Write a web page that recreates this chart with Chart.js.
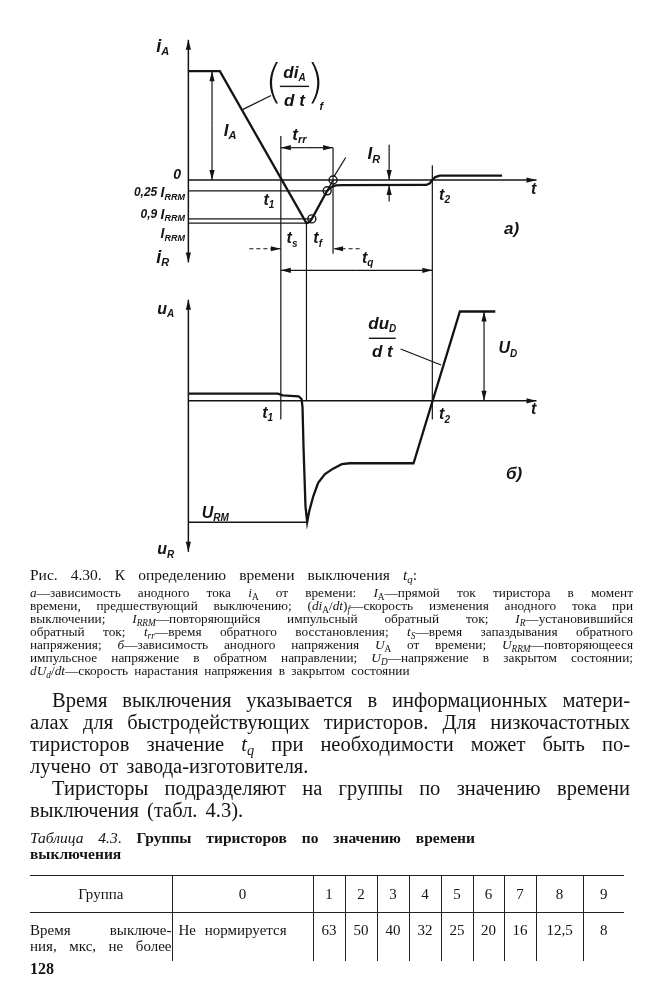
<!DOCTYPE html>
<html><head><meta charset="utf-8">
<script src="https://cdn.jsdelivr.net/npm/chart.js@4"></script>
<style>
html,body{margin:0;padding:0;background:#fff;}
body{width:663px;height:1000px;position:relative;overflow:hidden;font-family:"Liberation Serif","Times New Roman",serif;color:#141414;}
#figWrap{position:absolute;left:0;top:0;width:663px;height:570px;}
.ln{white-space:nowrap;text-align:justify;text-align-last:justify;}
.ln.last{text-align-last:left;}
sub{font-size:70%;vertical-align:-0.3em;line-height:0;}
#capHead{position:absolute;left:30px;top:567px;width:387px;font-size:15.5px;line-height:16px;}
#cap{position:absolute;left:30px;top:585.5px;width:603px;font-size:13.3px;line-height:13px;}
#body{position:absolute;left:30px;top:689px;width:600px;font-size:20.5px;line-height:22px;}
#body .ind{padding-left:22px;}
#tcap{position:absolute;left:30px;top:830px;width:445px;font-size:15.5px;line-height:16px;}
#tbl{position:absolute;left:30px;top:875px;border-collapse:collapse;font-size:15px;table-layout:fixed;}
#tbl td{padding:0;text-align:center;border-left:1.3px solid #222;vertical-align:top;}
#tbl td:first-child{border-left:none;}
#tbl tr.h td{height:36px;vertical-align:middle;border-top:1.3px solid #222;border-bottom:1.3px solid #222;}
#tbl tr.r td{height:48px;padding-top:9px;line-height:16px;box-sizing:border-box;}
#pg{position:absolute;left:30px;top:960px;font-size:16px;font-weight:bold;}
</style>
</head><body>
<div id="figWrap"><canvas id="fig" width="663" height="570"></canvas></div>

<div id="capHead" class="ln">Рис. 4.30. К определению времени выключения <i>t<sub>q</sub></i>:</div>
<div id="cap">
<div class="ln"><i>а</i>—зависимость анодного тока <i>i</i><sub>A</sub> от времени: <i>I</i><sub>A</sub>—прямой ток тиристора в момент</div>
<div class="ln">времени, предшествующий выключению; (<i>di</i><sub>A</sub>/<i>dt</i>)<sub><i>f</i></sub>—скорость изменения анодного тока при</div>
<div class="ln">выключении; <i>I<sub>RRM</sub></i>—повторяющийся импульсный обратный ток; <i>I<sub>R</sub></i>—установившийся</div>
<div class="ln">обратный ток; <i>t<sub>rr</sub></i>—время обратного восстановления; <i>t<sub>S</sub></i>—время запаздывания обратного</div>
<div class="ln">напряжения; <i>б</i>—зависимость анодного напряжения <i>U</i><sub>A</sub> от времени; <i>U<sub>RRM</sub></i>—повторяющееся</div>
<div class="ln">импульсное напряжение в обратном направлении; <i>U<sub>D</sub></i>—напряжение в закрытом состоянии;</div>
<div class="ln last" style="word-spacing:3px"><i>dU<sub>d</sub></i>/<i>dt</i>—скорость нарастания напряжения в закрытом состоянии</div>
</div>

<div id="body">
<div class="ln ind">Время выключения указывается в информационных матери-</div>
<div class="ln">алах для быстродействующих тиристоров. Для низкочастотных</div>
<div class="ln">тиристоров значение <i>t<sub>q</sub></i> при необходимости может быть по-</div>
<div class="ln last" style="word-spacing:3px">лучено от завода-изготовителя.</div>
<div class="ln ind">Тиристоры подразделяют на группы по значению времени</div>
<div class="ln last" style="word-spacing:3px">выключения (табл. 4.3).</div>
</div>

<div id="tcap">
<div class="ln"><i>Таблица 4.3</i>. <b>Группы тиристоров по значению времени</b></div>
<div><b>выключения</b></div>
</div>

<table id="tbl">
<colgroup>
<col style="width:142px"><col style="width:141px"><col style="width:32px"><col style="width:32px"><col style="width:32px"><col style="width:32px"><col style="width:32px"><col style="width:31px"><col style="width:32px"><col style="width:47px"><col style="width:41px">
</colgroup>
<tr class="h" id="hdr"></tr>
<tr class="r" id="row"></tr>
</table>
<div id="pg">128</div>

<script>
// ---- table data ----
const groupLabels = ['Группа', '0', '1', '2', '3', '4', '5', '6', '7', '8', '9'];
const turnOffTimes = ['Не нормируется', '63', '50', '40', '32', '25', '20', '16', '12,5', '8'];
const rowTitle = ['Время выключе-', 'ния, мкс, не более'];

// ---- diagram a): anode current vs time (time in arbitrary units, current in units of I_A) ----
const timeA    = [0, 1.29, 4.84, 4.93, 5.0, 5.06, 5.69, 5.80, 5.92, 6.05, 6.30, 9.75, 9.90, 10.0, 10.12, 10.30, 12.86];
const currentA = [1.0, 1.0, -0.396, -0.39, -0.375, -0.357, -0.099, -0.075, -0.058, -0.05, -0.046, -0.045, -0.03, 0, 0.027, 0.04, 0.04];
// marked points: 0.9 I_RRM, 0.25 I_RRM, extrapolated zero crossing
const markTimes    = [5.06, 5.69, 5.93];
const markCurrents = [-0.357, -0.099, 0];
// reference levels (fractions of I_RRM) and where their lines end
const IRRM = 0.396;
const refFractions = [0.25, 0.9, 1.0];
const refEnds      = [5.69, 5.03, 4.84];
// event times
const t1 = 3.79, tPeak = 4.84, tRR = 5.93, t2 = 10.0;

// ---- diagram б): anode voltage vs time (voltage in units of U_D) ----
const timeU    = [0, 3.67, 3.87, 4.19, 4.52, 4.64, 4.68, 4.72, 4.80, 4.87, 4.96, 5.12, 5.32, 5.60, 5.93, 6.29, 6.61, 9.23, 11.13, 12.58];
const voltageU = [0.08, 0.08, 0.06, 0.055, 0.05, 0.02, -0.077, -0.52, -1.18, -1.36, -1.23, -1.07, -0.92, -0.82, -0.76, -0.71, -0.70, -0.70, 1.0, 1.0];
const URM = -1.36;

const pts = (xs, ys) => xs.map((x, i) => ({x, y: ys[i]}));
const INK = '#141414';

// build table
document.getElementById('hdr').innerHTML = groupLabels.map(g => `<td>${g}</td>`).join('');
document.getElementById('row').innerHTML =
  `<td style="text-align:justify;padding-left:0"><div class="ln">${rowTitle[0]}</div><div class="ln">${rowTitle[1]}</div></td>` +
  turnOffTimes.map((v, i) => i === 0 ? `<td style="text-align:left;padding-left:6px;word-spacing:5px">${v}</td>` : `<td>${v}</td>`).join('');

const fontOf = (s, st) => `${st || 'italic bold'} ${s}px "Liberation Sans", Arial, sans-serif`;
function rich(ctx, parts, x, y, align) {
  let w = 0;
  parts.forEach(p => { ctx.font = fontOf(p.s, p.st); p.w = ctx.measureText(p.t).width; w += p.w; });
  let cx = align === 'right' ? x - w : (align === 'center' ? x - w / 2 : x);
  parts.forEach(p => { ctx.font = fontOf(p.s, p.st); ctx.fillText(p.t, cx, y + (p.dy || 0)); cx += p.w; });
}
const sym = (m, s, big, small) => [{t: m, s: big || 16}, {t: s, s: small || 10, dy: 5}];

function head(ctx, x, y, ang) {
  const L = 10, W = 2.6;
  ctx.beginPath();
  ctx.moveTo(x, y);
  ctx.lineTo(x - L * Math.cos(ang) + W * Math.sin(ang), y - L * Math.sin(ang) - W * Math.cos(ang));
  ctx.lineTo(x - L * Math.cos(ang) - W * Math.sin(ang), y - L * Math.sin(ang) + W * Math.cos(ang));
  ctx.closePath();
  ctx.fill();
}
function seg(ctx, x1, y1, x2, y2, o) {
  o = o || {};
  ctx.save();
  ctx.lineWidth = o.w || 1.2;
  ctx.setLineDash(o.dash || []);
  ctx.beginPath(); ctx.moveTo(x1, y1); ctx.lineTo(x2, y2); ctx.stroke();
  ctx.restore();
  const a = Math.atan2(y2 - y1, x2 - x1);
  if (o.end) head(ctx, x2, y2, a);
  if (o.start) head(ctx, x1, y1, a + Math.PI);
}

const annotations = {
  id: 'annotations',
  afterDatasetsDraw(chart) {
    const ctx = chart.ctx;
    const X = v => chart.scales.x.getPixelForValue(v);
    const A = v => chart.scales.yA.getPixelForValue(v);
    const B = v => chart.scales.yB.getPixelForValue(v);
    ctx.save();
    ctx.strokeStyle = INK; ctx.fillStyle = INK;
    ctx.textBaseline = 'middle'; ctx.textAlign = 'left';

    // ---- diagram a) ----
    seg(ctx, X(0), A(-0.757), X(0), A(1.288), {w: 1.5, end: true, start: true});
    seg(ctx, X(0), A(0), X(14.27), A(0), {w: 1.5, end: true});
    refFractions.forEach((f, i) => seg(ctx, X(0), A(-f * IRRM), X(refEnds[i]), A(-f * IRRM), {w: 1.2}));
    seg(ctx, X(t1), A(0.405), X(t1), A(-2.198));
    seg(ctx, X(tPeak), A(-IRRM), X(tPeak), A(-2.027));
    seg(ctx, X(tRR), A(0.297), X(tRR), A(-0.676));
    seg(ctx, X(t2), A(0.135), X(t2), A(-2.198));
    seg(ctx, X(0.97), A(0.5), X(0.97), A(1.0), {end: true});
    seg(ctx, X(0.97), A(0.5), X(0.97), A(0), {end: true});
    seg(ctx, X(4.8), A(0.297), X(t1), A(0.297), {end: true});
    seg(ctx, X(4.8), A(0.297), X(tRR), A(0.297), {end: true});
    seg(ctx, X(8.23), A(0.324), X(8.23), A(0), {end: true});
    seg(ctx, X(8.23), A(-0.198), X(8.23), A(-0.045), {end: true});
    seg(ctx, X(2.5), A(-0.631), X(t1), A(-0.631), {end: true, dash: [4, 3]});
    seg(ctx, X(7.02), A(-0.631), X(tRR), A(-0.631), {end: true, dash: [4, 3]});
    seg(ctx, X(6.9), A(-0.829), X(t1), A(-0.829), {end: true});
    seg(ctx, X(6.9), A(-0.829), X(t2), A(-0.829), {end: true});
    seg(ctx, X(2.24), A(0.649), X(3.39), A(0.777));
    seg(ctx, X(5.98), A(0.036), X(6.45), A(0.207));

    rich(ctx, sym('i', 'A', 18, 11), X(-1.05), A(1.225), 'center');
    rich(ctx, sym('i', 'R', 18, 11), X(-1.05), A(-0.72), 'center');
    rich(ctx, [{t: '0', s: 14}], X(-0.3), A(0.045), 'right');
    rich(ctx, [{t: '0,25 ', s: 12}, {t: 'I', s: 14}, {t: 'RRM', s: 9, dy: 4}], X(-0.14), A(-0.12), 'right');
    rich(ctx, [{t: '0,9 ', s: 12}, {t: 'I', s: 14}, {t: 'RRM', s: 9, dy: 4}], X(-0.14), A(-0.32), 'right');
    rich(ctx, [{t: 'I', s: 14}, {t: 'RRM', s: 9, dy: 4}], X(-0.14), A(-0.50), 'right');
    rich(ctx, sym('I', 'A', 17, 11), X(1.45), A(0.45), 'left');
    rich(ctx, sym('t', 'rr', 17, 11), X(4.55), A(0.41), 'center');
    rich(ctx, sym('I', 'R', 17, 11), X(7.6), A(0.234), 'center');
    rich(ctx, sym('t', '1', 16, 10), X(3.3), A(-0.19), 'center');
    rich(ctx, sym('t', 's', 16, 10), X(4.25), A(-0.54), 'center');
    rich(ctx, sym('t', 'f', 16, 10), X(5.3), A(-0.54), 'center');
    rich(ctx, sym('t', 'q', 16, 10), X(7.35), A(-0.72), 'center');
    rich(ctx, [{t: 't', s: 16}], X(14.15), A(-0.09), 'center');
    rich(ctx, sym('t', '2', 16, 10), X(10.5), A(-0.14), 'center');
    rich(ctx, [{t: 'a)', s: 17}], X(13.25), A(-0.45), 'center');
    // (di_A/dt)_f
    rich(ctx, sym('di', 'A', 17, 10), X(4.35), A(0.98), 'center');
    seg(ctx, X(3.75), A(0.86), X(4.95), A(0.86), {w: 1.4});
    rich(ctx, [{t: 'd t', s: 17}], X(4.35), A(0.72), 'center');
    ctx.font = '300 46px "DejaVu Sans", sans-serif';
    ctx.textAlign = 'center';
    ctx.fillText('(', X(3.5), A(0.87));
    ctx.fillText(')', X(5.2), A(0.87));
    ctx.textAlign = 'left';
    rich(ctx, [{t: 'f', s: 11}], X(5.45), A(0.67), 'center');

    // ---- diagram б) ----
    seg(ctx, X(0), B(-1.692), X(0), B(1.132), {w: 1.5, end: true, start: true});
    seg(ctx, X(0), B(0), X(14.27), B(0), {w: 1.5, end: true});
    seg(ctx, X(0), B(URM), X(4.87), B(URM), {w: 1.6});
    seg(ctx, X(12.12), B(0.5), X(12.12), B(1.0), {end: true});
    seg(ctx, X(12.12), B(0.5), X(12.12), B(0), {end: true});
    seg(ctx, X(8.7), B(0.58), X(10.36), B(0.4));

    rich(ctx, sym('u', 'A', 16, 10), X(-0.93), B(1.02), 'center');
    rich(ctx, sym('u', 'R', 16, 10), X(-0.93), B(-1.67), 'center');
    rich(ctx, sym('t', '1', 16, 10), X(3.25), B(-0.14), 'center');
    rich(ctx, sym('t', '2', 16, 10), X(10.5), B(-0.16), 'center');
    rich(ctx, [{t: 't', s: 16}], X(14.15), B(-0.1), 'center');
    rich(ctx, sym('U', 'RM', 16, 10), X(1.1), B(-1.26), 'center');
    rich(ctx, sym('du', 'D', 17, 10), X(7.95), B(0.86), 'center');
    seg(ctx, X(7.4), B(0.70), X(8.5), B(0.70), {w: 1.4});
    rich(ctx, [{t: 'd t', s: 17}], X(7.95), B(0.54), 'center');
    rich(ctx, sym('U', 'D', 16, 10), X(13.1), B(0.58), 'center');
    rich(ctx, [{t: 'б)', s: 17}], X(13.35), B(-0.82), 'center');
    ctx.restore();
  }
};

new Chart(document.getElementById('fig'), {
  type: 'scatter',
  data: {
    datasets: [
      {data: pts(timeA, currentA), yAxisID: 'yA', showLine: true, borderColor: INK, borderWidth: 2.3, pointRadius: 0, tension: 0},
      {data: pts(markTimes.slice(1), markCurrents.slice(1)), yAxisID: 'yA', showLine: true, borderColor: INK, borderWidth: 1.4, pointRadius: 0},
      {data: pts(markTimes, markCurrents), yAxisID: 'yA', showLine: false, pointRadius: 4, pointBackgroundColor: '#fff', pointBorderColor: INK, pointBorderWidth: 1.4},
      {data: pts(timeU, voltageU), yAxisID: 'yB', showLine: true, borderColor: INK, borderWidth: 2.3, pointRadius: 0, tension: 0}
    ]
  },
  options: {
    responsive: false,
    animation: false,
    devicePixelRatio: 1,
    layout: {padding: 0},
    plugins: {legend: {display: false}, tooltip: {enabled: false}, title: {display: false}},
    scales: {
      x: {type: 'linear', min: -7.5, max: 19.234, display: false},
      yA: {type: 'linear', min: -3.5315, max: 1.6036, display: false},
      yB: {type: 'linear', min: -1.835, max: 4.4286, display: false}
    }
  },
  plugins: [annotations]
});
</script>
</body></html>
